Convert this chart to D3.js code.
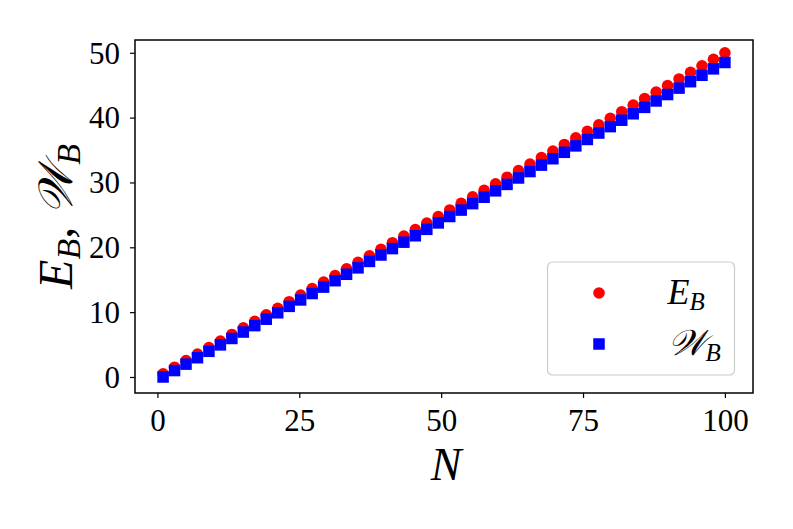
<!DOCTYPE html>
<meta charset="utf-8">
<script src="https://d3js.org/d3.v7.min.js"></script>
<style>
  body { margin: 0; background: #fff; }
  text { font-family: "Liberation Serif", "DejaVu Serif", serif; }
</style>
<div id="chart"></div>

<script>
  // N values (50 points from 1 to 100)
  var nValues = [1, 3.02, 5.04, 7.06, 9.08, 11.10, 13.12, 15.14, 17.16, 19.18,
                 21.20, 23.22, 25.24, 27.27, 29.29, 31.31, 33.33, 35.35, 37.37, 39.39,
                 41.41, 43.43, 45.45, 47.47, 49.49, 51.51, 53.53, 55.55, 57.57, 59.59,
                 61.61, 63.63, 65.65, 67.67, 69.69, 71.71, 73.73, 75.76, 77.78, 79.80,
                 81.82, 83.84, 85.86, 87.88, 89.90, 91.92, 93.94, 95.96, 97.98, 100];

  // E_B (red circles)
  var eValues = [0.5, 1.51, 2.52, 3.53, 4.54, 5.55, 6.56, 7.57, 8.58, 9.59,
                 10.6, 11.61, 12.62, 13.63, 14.64, 15.65, 16.67, 17.68, 18.69, 19.7,
                 20.71, 21.72, 22.73, 23.74, 24.75, 25.76, 26.77, 27.78, 28.79, 29.8,
                 30.81, 31.82, 32.83, 33.84, 34.85, 35.86, 36.87, 37.88, 38.89, 39.9,
                 40.91, 41.92, 42.93, 43.94, 44.95, 45.96, 46.97, 47.98, 48.99, 50];

  // W_B (blue squares)
  var wValues = [0, 0.99, 1.98, 2.97, 3.96, 4.95, 5.94, 6.93, 7.92, 8.91,
                 9.9, 10.89, 11.88, 12.87, 13.86, 14.85, 15.84, 16.83, 17.82, 18.81,
                 19.8, 20.79, 21.78, 22.77, 23.76, 24.75, 25.74, 26.73, 27.72, 28.71,
                 29.7, 30.69, 31.68, 32.67, 33.66, 34.65, 35.64, 36.63, 37.62, 38.61,
                 39.6, 40.59, 41.58, 42.57, 43.56, 44.55, 45.54, 46.53, 47.52, 48.5];

  var xTicks = [0, 25, 50, 75, 100];
  var yTicks = [0, 10, 20, 30, 40, 50];

  var margin = { top: 40, right: 40, bottom: 136, left: 135 },
      width = 793 - margin.left - margin.right,
      height = 529 - margin.top - margin.bottom;

  var svg = d3.select("#chart")
      .append("svg")
      .attr("width", 793)
      .attr("height", 529)
      .append("g")
      .attr("transform", "translate(" + margin.left + "," + margin.top + ")");

  var x = d3.scaleLinear().domain([-3.95, 104.95]).range([0, width]);
  var y = d3.scaleLinear().domain([-2.47, 51.97]).range([height, 0]);

  // X axis
  var xAxis = svg.append("g")
      .attr("transform", "translate(0," + height + ")")
      .call(d3.axisBottom(x).tickValues(xTicks).tickSize(5).tickFormat(d3.format("d")));
  xAxis.select(".domain").remove();
  xAxis.selectAll("line").attr("stroke", "#000").attr("stroke-width", 1.2);
  xAxis.selectAll("text")
      .attr("y", 38).attr("dy", 0)
      .style("font-size", "31px")
      .attr("fill", "#000");

  // Y axis
  var yAxis = svg.append("g")
      .call(d3.axisLeft(y).tickValues(yTicks).tickSize(5).tickFormat(d3.format("d")));
  yAxis.select(".domain").remove();
  yAxis.selectAll("line").attr("stroke", "#000").attr("stroke-width", 1.2);
  yAxis.selectAll("text")
      .attr("x", -15).attr("dy", "0.33em")
      .style("font-size", "31px")
      .attr("fill", "#000");

  var data = nValues.map(function (n, i) { return { n: n, e: eValues[i], w: wValues[i] }; });

  // red circles first, blue squares on top
  svg.append("g").selectAll("circle")
      .data(data).enter().append("circle")
      .attr("cx", function (d) { return x(d.n); })
      .attr("cy", function (d) { return y(d.e); })
      .attr("r", 5.8)
      .attr("fill", "#ff0000");

  var sq = 11.5;
  svg.append("g").selectAll("rect")
      .data(data).enter().append("rect")
      .attr("x", function (d) { return x(d.n) - sq / 2; })
      .attr("y", function (d) { return y(d.w) - sq / 2; })
      .attr("width", sq).attr("height", sq)
      .attr("fill", "#0000ff");

  // frame
  svg.append("rect")
      .attr("width", width).attr("height", height)
      .attr("fill", "none").attr("stroke", "#000").attr("stroke-width", 1.5);

  // X label
  svg.append("text")
      .attr("x", width / 2 + 2)
      .attr("y", height + 87)
      .attr("text-anchor", "middle")
      .style("font-size", "46px")
      .style("font-style", "italic")
      .text("N");

  // Y label
  var yl = svg.append("text")
      .attr("transform", "translate(" + (72 - margin.left) + "," + (height / 2) + ") rotate(-90)")
      .attr("text-anchor", "middle")
      .style("font-size", "48px");
  yl.append("tspan").style("font-style", "italic").text("E");
  yl.append("tspan").style("font-style", "italic").style("font-size", "34px").attr("dy", 8).text("B");
  yl.append("tspan").attr("dy", -8).text(", ");
  yl.append("tspan").style("font-style", "italic").text("\uD835\uDCB2");
  yl.append("tspan").style("font-style", "italic").style("font-size", "34px").attr("dy", 8).text("B");

  // Legend
  var legendData = [
      { sub: "B", main: "E", color: "#ff0000", shape: "circle" },
      { sub: "B", main: "\uD835\uDCB2", color: "#0000ff", shape: "square" }
  ];
  var lg = svg.append("g").attr("transform", "translate(" + (547.5 - margin.left) + "," + (262 - margin.top) + ")");
  lg.append("rect")
      .attr("width", 187).attr("height", 113).attr("rx", 5)
      .attr("fill", "#fff").attr("fill-opacity", 0.8)
      .attr("stroke", "#cccccc").attr("stroke-width", 1.2);
  legendData.forEach(function (d, i) {
      var cy = 31 + i * 51;
      if (d.shape === "circle") {
          lg.append("circle").attr("cx", 51.5).attr("cy", cy).attr("r", 5.8).attr("fill", d.color);
      } else {
          lg.append("rect").attr("x", 51.5 - sq / 2).attr("y", cy - sq / 2)
              .attr("width", sq).attr("height", sq).attr("fill", d.color);
      }
      var t = lg.append("text")
          .attr("x", 120).attr("y", cy + 11)
          .style("font-size", "36px");
      t.append("tspan").style("font-style", "italic").text(d.main);
      t.append("tspan").style("font-style", "italic").style("font-size", "25px").attr("dy", 6).text(d.sub);
  });
</script>
